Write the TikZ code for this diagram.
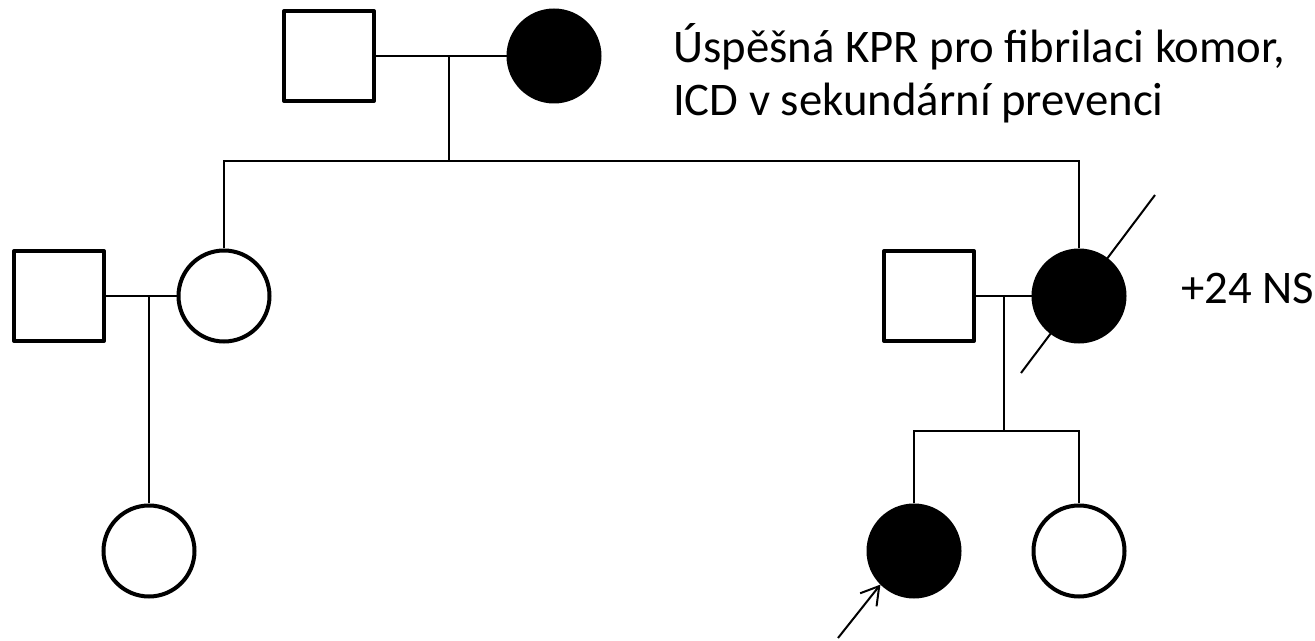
\documentclass[tikz,border=0pt]{standalone}
\usepackage{fontspec}
\setmainfont{Carlito}
\usetikzlibrary{arrows.meta}

\begin{document}
\begin{tikzpicture}[x=0.2mm, y=0.2mm, >={Straight Barb[length=3.5mm,width=4.2mm]},
  male/.style={draw, line width=0.8mm, line join=round, minimum size=18mm, inner sep=0pt},
  female/.style={draw, circle, line width=0.8mm, minimum size=18.2mm, inner sep=0pt},
  affected/.style={fill=black},
  tie/.style={line width=0.4mm},
  note/.style={anchor=base west, align=left, font=\fontsize{26.6}{30.2}\selectfont}]

\useasboundingbox (0,0) rectangle (1315,640);

% Generation I
\node[male] (I1) at (329,584) {};
\node[female, affected] (I2) at (554,584) {};

% Generation II
\node[male] (II1) at (59,344) {};
\node[female] (II2) at (224,344) {};
\node[male] (II3) at (929,344) {};
\node[female, affected] (II4) at (1079,344) {};

% Generation III
\node[female] (III1) at (149,89) {};
\node[female, affected] (III2) at (914,89) {};
\node[female] (III3) at (1079,89) {};

% Mating and sibship lines
\coordinate (m1) at (449,584);
\coordinate (s1) at (449,479);
\coordinate (m2) at (149,344);
\coordinate (m3) at (1004,344);
\coordinate (s3) at (1004,209);

\draw[tie] (I1) -- (I2);
\draw[tie] (m1) -- (s1);
\draw[tie] (II2.north) |- (s1) -| (II4.north);

\draw[tie] (II1) -- (II2);
\draw[tie] (m2) -- (III1);

\draw[tie] (II3) -- (II4);
\draw[tie] (m3) -- (s3);
\draw[tie] (III2.north) |- (s3) -| (III3.north);

% Deceased
\draw[tie] (II4) ++(-58,-77) -- ++(134,178);

% Proband
\coordinate (pb) at (838,2);
\draw[tie, ->] (pb) -- (III2.south west);

% Notes (base is on the last line)
\node[note] (n1) at (667,524) {Úspěšná KPR pro fibrilaci komor,\\ICD v sekundární prevenci};
\node[note] (n2) at (1175,336) {+24 NS};

\end{tikzpicture}
\end{document}
